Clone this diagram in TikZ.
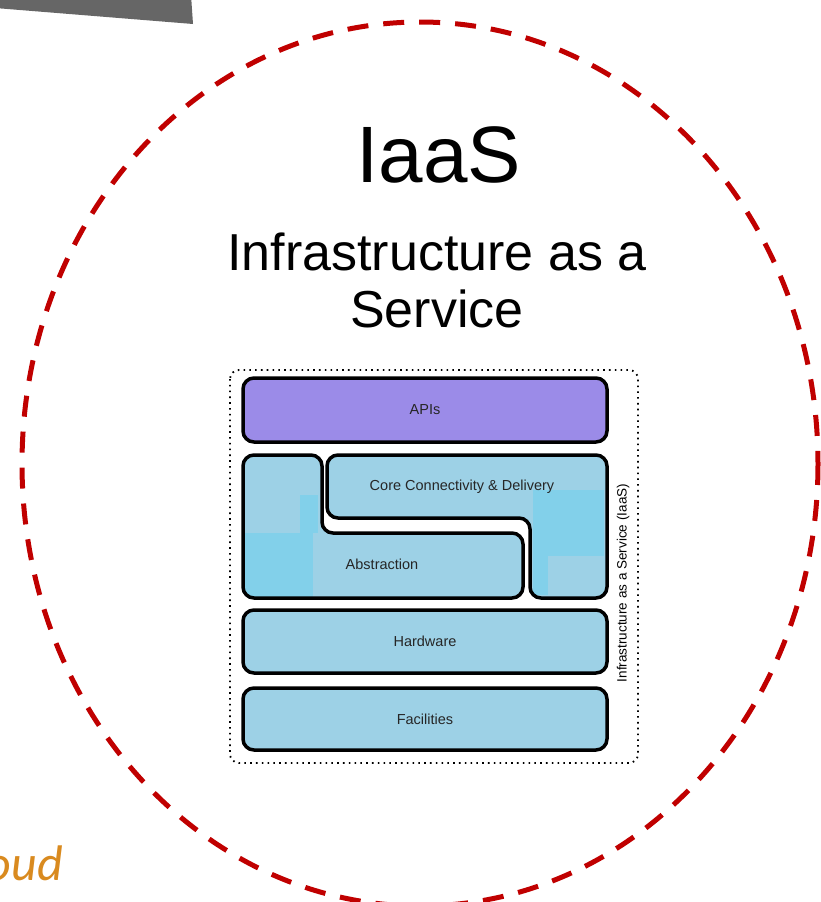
\documentclass[tikz,border=0pt]{standalone}
\usepackage{fontspec}
\setmainfont{Liberation Sans}
\newfontfamily\cloudfont{Carlito}
\usepackage{xcolor}
\usepackage{tikz}
\usetikzlibrary{calc, positioning}

\definecolor{vienDo}{HTML}{C00000}
\definecolor{xamGoc}{HTML}{666666}
\definecolor{timAPI}{HTML}{9B8BE8}
\definecolor{xanhLop}{HTML}{9DD1E6}
\definecolor{xanhSang}{HTML}{82D0EA}
\definecolor{camCloud}{HTML}{D98A1F}

\begin{document}
\begin{tikzpicture}[x=1pt, y=-1pt,
    lop/.style={draw=black, line width=3.5pt, rounded corners=11pt},
    nhan/.style={font=\fontsize{14.5}{16}\selectfont, text=black!85},
    khung/.style={draw=black, line width=1.8pt, dash pattern=on 1.6pt off 4.2pt, rounded corners=9pt}]
    % Khung trang theo ảnh gốc
    \useasboundingbox (0,0) rectangle (821,902);

    % Mảnh xám ở góc trên bên trái
    \fill[xamGoc] (-5,-5) -- (191,-5) -- (193,24) -- (-5,8) -- cycle;

    % Vòng elip đứt nét màu đỏ
    \draw[vienDo, line width=5pt, dash pattern=on 21pt off 15pt] (420,464) ellipse [x radius=398, y radius=442];

    % Tiêu đề
    \node[anchor=base, font=\fontsize{80}{90}\selectfont, inner sep=0pt] (tieude) at (439,182) {IaaS};
    \node[anchor=base, align=center, font=\fontsize{52}{57}\selectfont, inner sep=0pt] (phude) at (437,327) {Infrastructure as a\\Service};

    % Khung chấm bao quanh các lớp
    \draw[khung] (230,370) rectangle (638,763);

    % Các lớp: APIs, Hardware, Facilities
    \node[lop, fill=timAPI, minimum width=364pt, minimum height=64pt, nhan] (apis) at (425,410) {APIs};
    \node[lop, fill=xanhLop, minimum width=364pt, minimum height=63pt, nhan] (hardware) at (425,641.5) {Hardware};
    \node[lop, fill=xanhLop, minimum width=364pt, minimum height=62pt, nhan] (facilities) at (425,719) {Facilities};

    % Lớp Abstraction (hình chữ L)
    \fill[xanhLop, rounded corners=11pt] (243,455) -- (322,455) -- (322,533) -- (523,533) -- (523,598) -- (243,598) -- cycle;
    \begin{scope}
        \clip[rounded corners=11pt] (243,455) -- (322,455) -- (322,533) -- (523,533) -- (523,598) -- (243,598) -- cycle;
        \fill[xanhSang] (240,533) rectangle (313,600);
        \fill[xanhSang] (300,495) rectangle (318,533);
    \end{scope}
    \draw[lop] (243,455) -- (322,455) -- (322,533) -- (523,533) -- (523,598) -- (243,598) -- cycle;

    % Lớp Core Connectivity & Delivery (hình chữ L ngược)
    \fill[xanhLop, rounded corners=11pt] (327,455) -- (607,455) -- (607,598) -- (530,598) -- (530,518) -- (327,518) -- cycle;
    \begin{scope}
        \clip[rounded corners=11pt] (327,455) -- (607,455) -- (607,598) -- (530,598) -- (530,518) -- (327,518) -- cycle;
        \fill[xanhSang] (533,490) rectangle (604,556);
        \fill[xanhSang] (533,556) rectangle (548,595);
    \end{scope}
    \draw[lop] (327,455) -- (607,455) -- (607,598) -- (530,598) -- (530,518) -- (327,518) -- cycle;

    \node[nhan] (core) at (462,487) {Core Connectivity \& Delivery};
    \node[nhan] (abstraction) at (382,564) {Abstraction};

    % Chữ dọc bên phải
    \node[rotate=90, font=\fontsize{13.5}{15}\selectfont] (doc) at (623,583) {Infrastructure as a Service (IaaS)};

    % Mẩu chữ ở góc dưới bên trái
    \node[anchor=base east, inner sep=0pt, font=\cloudfont\itshape\fontsize{50}{55}\selectfont, text=camCloud] (cloud) at (63,880) {oud};
\end{tikzpicture}
\end{document}
